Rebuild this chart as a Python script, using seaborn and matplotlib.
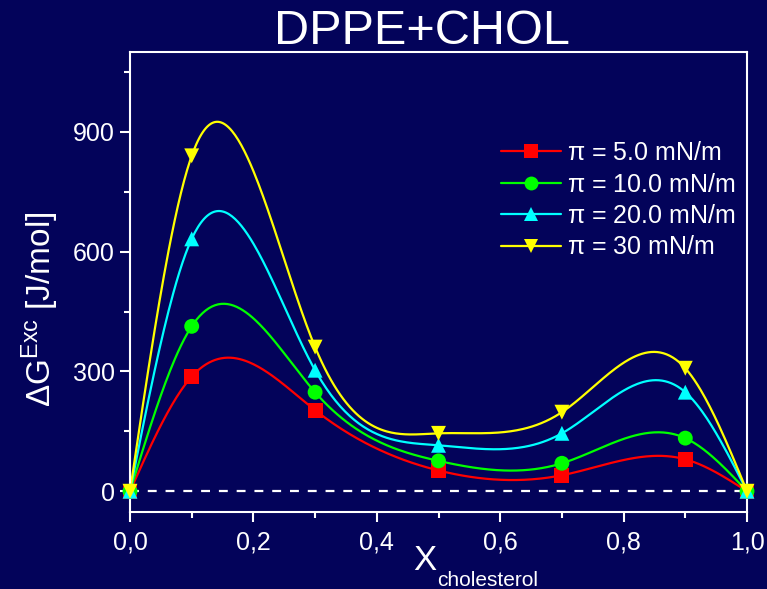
import numpy as np
import pandas as pd
import matplotlib
matplotlib.use("Agg")
import matplotlib.pyplot as plt
from matplotlib.lines import Line2D
import seaborn as sns

# ---- data ----
x_chol = [0.0, 0.1, 0.3, 0.5, 0.7, 0.9, 1.0]
g_5 = [0, 287, 203, 52, 40, 80, 0]
g_10 = [0, 413, 248, 76, 70, 133, 0]
g_20 = [0, 632, 303, 115, 145, 248, 0]
g_30 = [0, 840, 361, 145, 198, 308, 0]
series_labels = [r"$\pi$ = 5.0 mN/m", r"$\pi$ = 10.0 mN/m",
                 r"$\pi$ = 20.0 mN/m", r"$\pi$ = 30 mN/m"]
x_ticks = [0.0, 0.2, 0.4, 0.6, 0.8, 1.0]
x_ticklabels = ["0,0", "0,2", "0,4", "0,6", "0,8", "1,0"]
y_ticks = [0, 300, 600, 900]

colors = ["#FF0000", "#00FF00", "#00FFFF", "#FFFF00"]
markers = ["s", "o", "^", "v"]
bg = "#03035A"

sns.set_style("dark")
plt.rcParams["font.family"] = ["Liberation Sans", "DejaVu Sans"]
plt.rcParams["mathtext.fontset"] = "custom"
plt.rcParams["mathtext.rm"] = "Liberation Sans"
plt.rcParams["mathtext.it"] = "Liberation Sans"
plt.rcParams["mathtext.sf"] = "Liberation Sans"


def natural_spline(x, y, n=400):
    x = np.asarray(x, float)
    y = np.asarray(y, float)
    m = len(x)
    h = np.diff(x)
    A = np.zeros((m, m))
    b = np.zeros(m)
    A[0, 0] = 1
    A[-1, -1] = 1
    for i in range(1, m - 1):
        A[i, i - 1] = h[i - 1]
        A[i, i] = 2 * (h[i - 1] + h[i])
        A[i, i + 1] = h[i]
        b[i] = 3 * ((y[i + 1] - y[i]) / h[i] - (y[i] - y[i - 1]) / h[i - 1])
    c = np.linalg.solve(A, b)
    xs = np.linspace(x[0], x[-1], n)
    ys = np.empty_like(xs)
    for k, xv in enumerate(xs):
        i = min(np.searchsorted(x, xv, side="right") - 1, m - 2)
        dx = xv - x[i]
        bb = (y[i + 1] - y[i]) / h[i] - h[i] * (2 * c[i] + c[i + 1]) / 3
        d = (c[i + 1] - c[i]) / (3 * h[i])
        ys[k] = y[i] + bb * dx + c[i] * dx ** 2 + d * dx ** 3
    return xs, ys


all_series = [g_5, g_10, g_20, g_30]
curve_rows = []
point_rows = []
for lab, ser in zip(series_labels, all_series):
    xs, ys = natural_spline(x_chol, ser)
    curve_rows.append(pd.DataFrame({"x": xs, "y": ys, "s": lab}))
    point_rows.append(pd.DataFrame({"x": x_chol, "y": ser, "s": lab}))
curves = pd.concat(curve_rows, ignore_index=True)
points = pd.concat(point_rows, ignore_index=True)

fig = plt.figure(figsize=(7.67, 5.89), dpi=100, facecolor=bg)
ax = fig.add_axes([130 / 767, 77 / 589, 617 / 767, 460 / 589])
ax.set_facecolor(bg)

ax.axhline(0, color="white", lw=1.6, ls=(0, (4, 4)), zorder=1)

palette = dict(zip(series_labels, colors))
sns.lineplot(data=curves, x="x", y="y", hue="s", palette=palette,
             lw=1.6, legend=False, ax=ax, zorder=2, sort=False,
             estimator=None)
for lab, col, mk in zip(series_labels, colors, markers):
    sub = points[points["s"] == lab]
    sns.scatterplot(data=sub, x="x", y="y", color=col, marker=mk,
                    s=115, edgecolor="none", legend=False, ax=ax, zorder=3,
                    clip_on=False)

ax.set_xlim(0, 1.0)
ax.set_ylim(-52, 1100)
ax.set_xticks(x_ticks)
ax.set_xticklabels(x_ticklabels)
ax.set_xticks([0.1, 0.3, 0.5, 0.7, 0.9], minor=True)
ax.set_yticks(y_ticks)
ax.set_yticks([150, 450, 750, 1050], minor=True)
ax.tick_params(axis="both", which="major", direction="out", length=7,
               width=1.5, color="white", labelcolor="white", labelsize=18,
               bottom=True, left=True, top=False, right=False)
ax.tick_params(axis="both", which="minor", direction="out", length=4,
               width=1.5, color="white", bottom=True, left=True)
ax.tick_params(axis="x", pad=6)
ax.tick_params(axis="y", pad=4)
for sp in ax.spines.values():
    sp.set_visible(True)
    sp.set_color("white")
    sp.set_linewidth(1.5)
ax.grid(False)
ax.set_xlabel("")
ax.set_ylabel(r"$\Delta$G$^{\mathrm{Exc}}$ [J/mol]", color="white",
              fontsize=24)
ax.yaxis.set_label_coords(-0.112, 0.44)

fig.text(425 / 767, 1 - 561 / 589, "X", color="white", fontsize=25,
         ha="center", va="center")
fig.text(437 / 767, 1 - 581 / 589, "cholesterol", color="white",
         fontsize=15, ha="left", va="center")

fig.text(422 / 767, 1 - 32 / 589, "DPPE+CHOL", color="white", fontsize=35,
         ha="center", va="center")

handles = [Line2D([0], [0], color=c, marker=m, lw=1.6, markersize=10,
                  markeredgewidth=0) for c, m in zip(colors, markers)]
leg = ax.legend(handles, series_labels, loc="upper left",
                bbox_to_anchor=(361 / 617, 1 - 79 / 460), frameon=False,
                fontsize=18, labelcolor="white", handlelength=2.4,
                handletextpad=0.25, labelspacing=0.3, borderaxespad=0)

fig.savefig("out.png", dpi=100, facecolor=bg)
